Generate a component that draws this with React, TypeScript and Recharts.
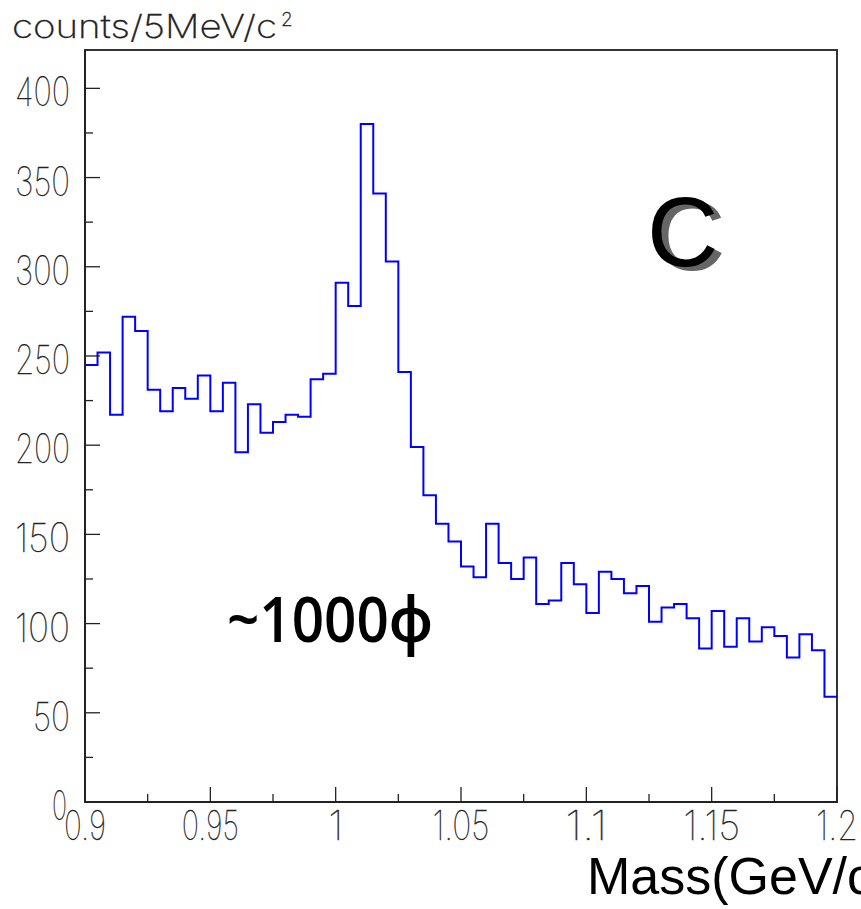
import React from 'react';
import { LineChart, Line, XAxis, YAxis, ReferenceArea, Customized } from 'recharts';

// Histogram: 5 MeV/c^2 bins from 0.900 to 1.200 GeV/c^2
const binStart = 0.9;
const binWidth = 0.005;
const counts = [
  245, 252, 217, 272, 264, 231, 219, 232, 226, 239,
  219, 235, 196, 223, 207, 213, 217, 216, 237, 240,
  291, 278, 380, 341, 303, 241, 199, 172, 156, 146,
  132, 126, 156, 134, 125, 137, 111, 113, 134, 122,
  106, 129, 125, 117, 121, 101, 109, 111, 103, 86,
  107, 87, 103, 90, 98, 93, 81, 94, 85, 59,
];

const xMajorTicks = [0.9, 0.95, 1, 1.05, 1.1, 1.15, 1.2];
const xMajorLabels = ['0.9', '0.95', '1', '1.05', '1.1', '1.15', '1.2'];
const xMinorTicks = [0.925, 0.975, 1.025, 1.075, 1.125, 1.175];
const yMajorTicks = [0, 50, 100, 150, 200, 250, 300, 350, 400];
const yMajorLabels = ['0', '50', '100', '150', '200', '250', '300', '350', '400'];
const yMinorTicks = [25, 75, 125, 175, 225, 275, 325, 375];

const yTitle = 'counts/5MeV/c';
const yTitleSup = '2';
const xTitle = 'Mass(GeV/c²)';
const panelLabel = 'C';
const yieldLabel = '~1000ϕ';

const data = [
  ...counts.map((v, i) => ({ m: +(binStart + i * binWidth).toFixed(3), v })),
  { m: +(binStart + counts.length * binWidth).toFixed(3), v: counts[counts.length - 1] },
];

const thinFont = 'Inter, "DejaVu Sans", sans-serif';
const axisColor = '#222';

const renderXTick = (props: any) => {
  const { x, y, payload } = props;
  const idx = xMajorTicks.findIndex((t) => Math.abs(t - payload.value) < 1e-6);
  const major = idx >= 0;
  const label = major ? xMajorLabels[idx] : '';
  const digits = label.replace('.', '').length;
  const len = digits * 15 + (label.includes('.') ? 12 : 0);
  return (
    <g key={`xt-${payload.value}`}>
      <line x1={x} x2={x} y1={y} y2={y - (major ? 15 : 8)} stroke={axisColor} strokeWidth={1.3} />
      {major && (
        <text
          x={x}
          y={y + 38}
          textAnchor="middle"
          fontFamily={thinFont}
          fontWeight={100}
          fontSize={41}
          fill={axisColor}
          stroke={axisColor}
          strokeWidth={0.4}
          {...(digits > 1 ? { textLength: len, lengthAdjust: 'spacingAndGlyphs' } : {})}
        >
          {label}
        </text>
      )}
    </g>
  );
};

const renderYTick = (props: any) => {
  const { x, y, payload } = props;
  const idx = yMajorTicks.findIndex((t) => Math.abs(t - payload.value) < 1e-6);
  const major = idx >= 0;
  const label = major ? yMajorLabels[idx] : '';
  const len = label.length === 3 ? 55 : label.length === 2 ? 37 : 15;
  return (
    <g key={`yt-${payload.value}`}>
      <line x1={x} x2={x + (major ? 15 : 8)} y1={y} y2={y} stroke={axisColor} strokeWidth={1.3} />
      {major && (
        <text
          x={label.length === 1 ? x - 18 : x - 15}
          y={y + 18}
          textAnchor="end"
          fontFamily={thinFont}
          fontWeight={100}
          fontSize={40}
          fill={axisColor}
          stroke={axisColor}
          strokeWidth={0.4}
          textLength={len}
          lengthAdjust="spacingAndGlyphs"
        >
          {label}
        </text>
      )}
    </g>
  );
};

const Annotations = () => (
  <g>
    <text x={12} y={38} fontFamily={thinFont} fontWeight={200} fontSize={32} fill={axisColor}
      stroke={axisColor} strokeWidth={0.3}
      textLength={265} lengthAdjust="spacingAndGlyphs">{yTitle}</text>
    <text x={281} y={26} fontFamily={thinFont} fontWeight={200} fontSize={19} fill={axisColor}
      stroke={axisColor} strokeWidth={0.3}>{yTitleSup}</text>
    <text x={654} y={270} fontFamily='"Liberation Sans", Arial, sans-serif' fontSize={99} fill="#666">{panelLabel}</text>
    <text x={647} y={266} fontFamily='"Liberation Sans", Arial, sans-serif' fontSize={99} fill="#000">{panelLabel}</text>
    <text x={227} y={642} fontFamily='"Open Sans", "Noto Sans", sans-serif' fontWeight={600} fontSize={63} fill="#000"
      textLength={206} lengthAdjust="spacingAndGlyphs">{yieldLabel}</text>
    <text x={587} y={894} fontFamily='"Liberation Sans", Arial, sans-serif' fontSize={52} fill="#000">{xTitle}</text>
  </g>
);

export default function App() {
  return (
    <div style={{ width: 861, height: 909, background: '#fff' }}>
      <style>{'body{margin:0;}'}</style>
      <LineChart
        width={861}
        height={909}
        data={data}
        margin={{ top: 50, right: 24, bottom: 0, left: 0 }}
        style={{ overflow: 'visible' }}
      >
        <XAxis
          dataKey="m"
          type="number"
          domain={[0.9, 1.2]}
          ticks={[...xMajorTicks, ...xMinorTicks]}
          height={107}
          tickSize={0}
          tickMargin={0}
          tickLine={false}
          axisLine={{ stroke: axisColor, strokeWidth: 2 }}
          tick={renderXTick}
          interval={0}
          allowDataOverflow
        />
        <YAxis
          type="number"
          domain={[0, 421.5]}
          ticks={[...yMajorTicks, ...yMinorTicks]}
          width={85}
          tickSize={0}
          tickMargin={0}
          tickLine={false}
          axisLine={{ stroke: axisColor, strokeWidth: 2 }}
          tick={renderYTick}
          interval={0}
          allowDataOverflow
        />
        <ReferenceArea x1={0.9} x2={1.2} y1={0} y2={421.5} fill="none" stroke="#333" strokeWidth={2} ifOverflow="visible" />
        <Line
          type="stepAfter"
          dataKey="v"
          stroke="#0000ff"
          strokeWidth={2}
          dot={false}
          activeDot={false}
          isAnimationActive={false}
        />
        <Customized component={Annotations} />
      </LineChart>
    </div>
  );
}
